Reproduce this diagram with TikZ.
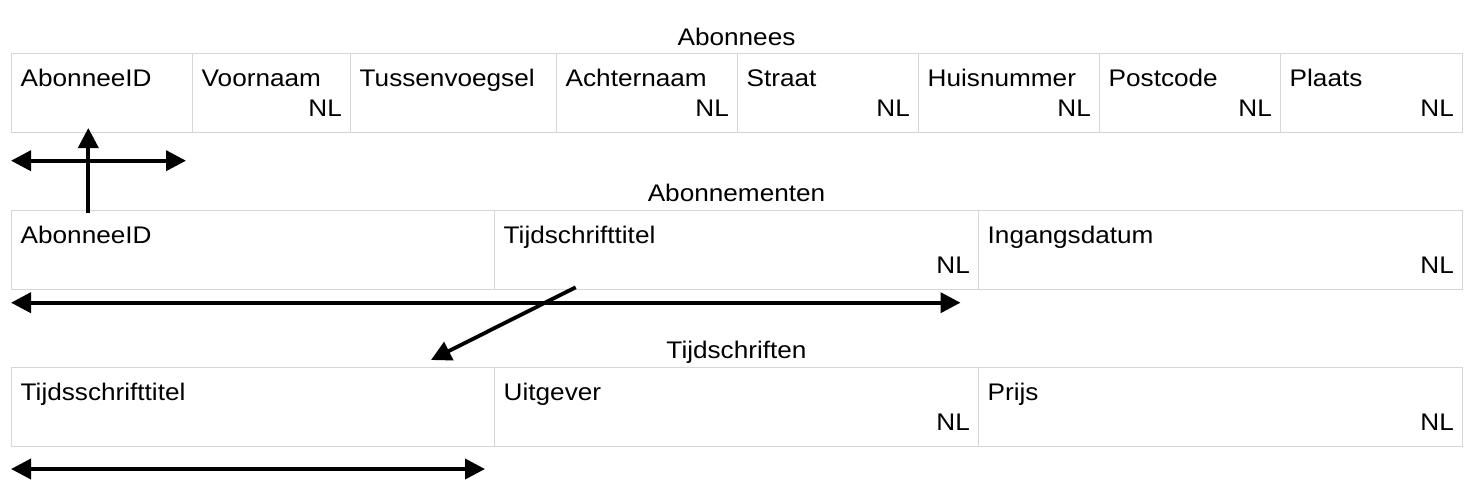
\documentclass[tikz,border=0pt]{standalone}
\usepackage{fontspec}
\setmainfont{Liberation Sans}[FakeStretch=1.09]
\usetikzlibrary{arrows.meta,calc}
\definecolor{gridgray}{HTML}{D6D6D6}
\begin{document}
\begin{tikzpicture}[x=1pt,y=-1pt,
  cell/.style={draw=gridgray, line width=1pt, rectangle, inner sep=0pt, anchor=north west, minimum height=#1},
  txt/.style={font=\fontsize{24}{29}\selectfont, inner sep=0pt},
  lbl/.style={txt, anchor=base west},
  nlbl/.style={txt, anchor=base east},
  ttl/.style={txt, anchor=base},
  conn/.style={line width=3.8pt, -{Triangle[length=20pt,width=20pt]}},
  bconn/.style={line width=3.8pt, {Triangle[length=20pt,width=20pt]}-{Triangle[length=20pt,width=20pt]}}]
\useasboundingbox (0,0) rectangle (1482,488);

% Table 1: Abonnees
\node[ttl] (t1) at (736.5,45) {Abonnees};
\foreach \n/\xa/\xb/\t in {a1/11/192/AbonneeID, a2/192/350/Voornaam, a3/350/556/Tussenvoegsel, a4/556/737/Achternaam, a5/737/918/Straat, a6/918/1099/Huisnummer, a7/1099/1280/Postcode, a8/1280/1462/Plaats}{
  \node[cell=79pt, minimum width=\xb pt-\xa pt] (\n) at (\xa,53) {};
  \node[lbl] (\n-t) at ($(\n.north west)+(9.5,33)$) {\t};
}
\foreach \n in {a2,a4,a5,a6,a7,a8}{
  \node[nlbl] (\n-nl) at ($(\n.north east)+(-9,63)$) {NL};
}

% Table 2: Abonnementen
\node[ttl] (t2) at (736.5,201.5) {Abonnementen};
\foreach \n/\xa/\xb/\t in {b1/11/494/AbonneeID, b2/494/978/Tijdschrifttitel, b3/978/1462/Ingangsdatum}{
  \node[cell=79pt, minimum width=\xb pt-\xa pt] (\n) at (\xa,210) {};
  \node[lbl] (\n-t) at ($(\n.north west)+(9.5,33)$) {\t};
}
\foreach \n in {b2,b3}{
  \node[nlbl] (\n-nl) at ($(\n.north east)+(-9,63)$) {NL};
}

% Table 3: Tijdschriften
\node[ttl] (t3) at (736.5,358.5) {Tijdschriften};
\foreach \n/\xa/\xb/\t in {c1/11/494/Tijdsschrifttitel, c2/494/978/Uitgever, c3/978/1462/Prijs}{
  \node[cell=79pt, minimum width=\xb pt-\xa pt] (\n) at (\xa,367) {};
  \node[lbl] (\n-t) at ($(\n.north west)+(9.5,33)$) {\t};
}
\foreach \n in {c2,c3}{
  \node[nlbl] (\n-nl) at ($(\n.north east)+(-9,63)$) {NL};
}

% connectors
\coordinate (k1l) at (11,160.7);
\coordinate (k1r) at (186,160.7);
\coordinate (f1s) at (88.3,213);
\coordinate (f1e) at (88.3,128);
\coordinate (k2l) at (11,302.7);
\coordinate (k2r) at (960.5,302.7);
\coordinate (f2s) at (575.7,287.3);
\coordinate (f2e) at (431,360);
\coordinate (k3l) at (11,469);
\coordinate (k3r) at (485,469);

\draw[bconn] (k1l) -- (k1r);
\draw[conn] (f1s) -- (f1e);
\draw[bconn] (k2l) -- (k2r);
\draw[conn] (f2s) -- (f2e);
\draw[bconn] (k3l) -- (k3r);
\end{tikzpicture}
\end{document}
